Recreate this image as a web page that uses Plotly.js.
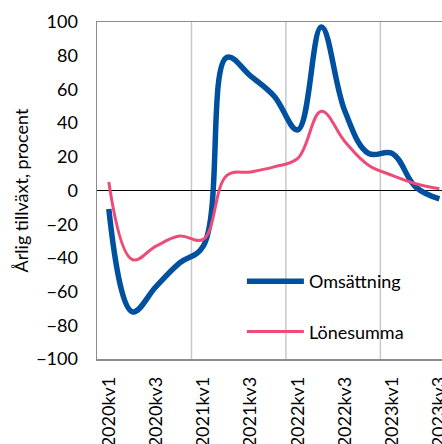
<!DOCTYPE html>
<html>
<head>
<meta charset="utf-8">
<script src="https://cdn.plot.ly/plotly-3.0.1.min.js"></script>
<style>html,body{margin:0;padding:0;background:#fff;overflow:hidden}#chart{width:442px;height:444px}</style>
</head>
<body>
<div id="chart"></div>
<script>
var categories = ["2020kv1","2020kv2","2020kv3","2020kv4","2021kv1","2021kv2","2021kv3","2021kv4","2022kv1","2022kv2","2022kv3","2022kv4","2023kv1","2023kv2","2023kv3"];
var tickLabels = ["2020kv1","2020kv3","2021kv1","2021kv3","2022kv1","2022kv3","2023kv1","2023kv3"];
var omsattning = [-11, -72, -57, -43, -33, 79, 68, 56, 36, 97, 47, 22, 22, 2, -5];
var lonesumma = [5, -41, -33, -27, -29, 9, 11, 14, 19, 47, 29, 15, 9, 4, 1];

var FONT = "Lato, 'Open Sans', sans-serif";
var shapes = [];
categories.forEach(function(c, i){
  if (i > 0 && c.slice(-3) === "kv1") {
    shapes.push({type:"line", xref:"x", yref:"paper", x0:i-0.5, x1:i-0.5, y0:0, y1:1,
      line:{color:"#c8c8c8", width:1.5}, layer:"below"});
  }
});

var traces = [
  {x: categories, y: omsattning, name: "Omsättning", type: "scatter", mode: "lines",
   line: {color: "#0050A0", width: 5.5, shape: "spline", smoothing: 1.1}, legendgroup:"a"},
  {x: categories, y: lonesumma, name: "Lönesumma", type: "scatter", mode: "lines",
   line: {color: "#EE4B77", width: 3, shape: "spline", smoothing: 1.1}, legendgroup:"b"}
];

var layout = {
  width: 442, height: 444,
  margin: {l: 97, r: 0, t: 22, b: 85},
  paper_bgcolor: "#fff", plot_bgcolor: "#fff",
  font: {family: FONT, size: 18, color: "#000"},
  showlegend: true,
  legend: {x: 0.42, y: 0.285, xanchor: "left", yanchor: "top", bgcolor: "rgba(0,0,0,0)",
    font: {family: FONT, size: 18, color: "#000"}, traceorder: "grouped", tracegroupgap: 24,
    itemwidth: 57},
  xaxis: {type: "category", categoryarray: categories, range: [-0.5, 14.11],
    tickmode: "array", tickvals: tickLabels, ticktext: tickLabels, tickangle: -90,
    showgrid: false, zeroline: false, showline: true, linecolor: "#8c8c8c", linewidth: 1.5,
    mirror: true, ticks: "", ticklabelstandoff: 9, tickfont: {family: FONT, size: 18}},
  yaxis: {range: [-100, 100], tickmode: "linear", tick0: -100, dtick: 20,
    showgrid: false, zeroline: true, zerolinecolor: "#000", zerolinewidth: 1.2,
    showline: true, linecolor: "#8c8c8c", linewidth: 1.5, mirror: false, ticks: "",
    ticklabelstandoff: 14, tickfont: {family: FONT, size: 18},
    title: {text: "Årlig tillväxt, procent", font: {family: FONT, size: 18}, standoff: 3}},
  shapes: shapes
};

Plotly.newPlot("chart", traces, layout, {displayModeBar: false, staticPlot: true});
</script>
</body>
</html>
